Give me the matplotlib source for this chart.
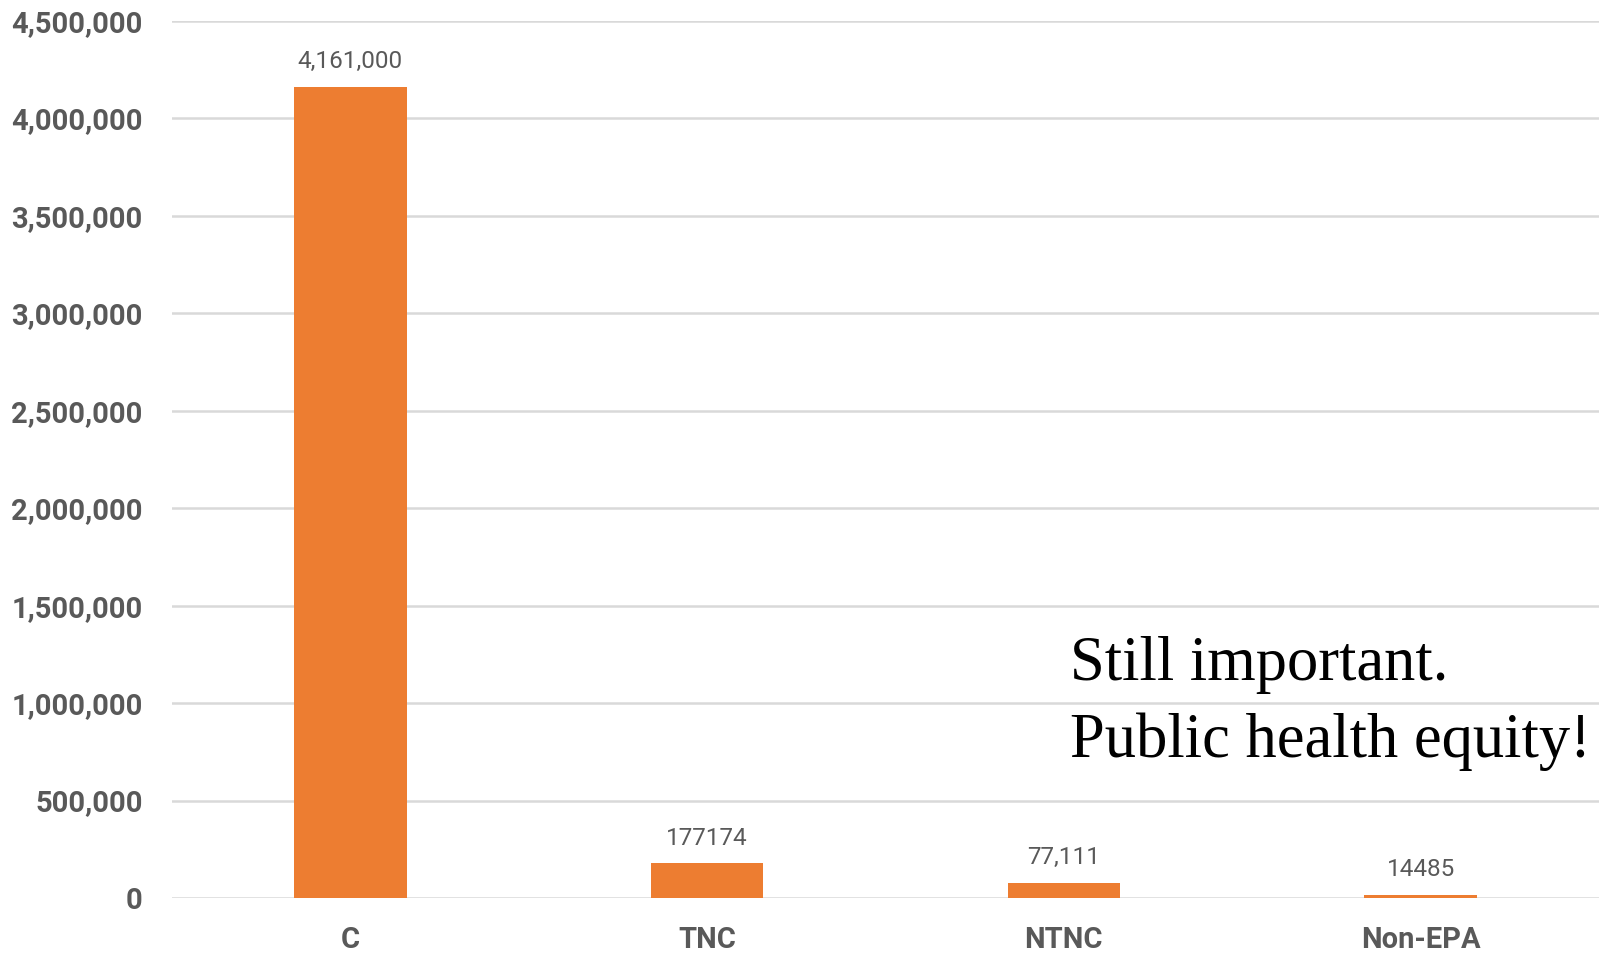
import matplotlib
matplotlib.use("Agg")
import matplotlib.pyplot as plt

# data
categories = ["C", "TNC", "NTNC", "Non-EPA"]
values = [4161000, 177174, 77111, 14485]
value_labels = ["4,161,000", "177174", "77,111", "14485"]
y_ticks = [0, 500000, 1000000, 1500000, 2000000, 2500000, 3000000, 3500000, 4000000, 4500000]
note_lines = ["Still important.", "Public health equity!"]

BAR_COLOR = "#ED7D31"
GRID_COLOR = "#D9D9D9"
TEXT_COLOR = "#595959"

fig = plt.figure(figsize=(15.99, 9.55), dpi=100)
ax = fig.add_axes([172 / 1599, 57 / 955, 1427 / 1599, 877 / 955])

x = range(len(categories))
ax.bar(x, values, width=0.315, color=BAR_COLOR, zorder=3)

ax.set_xlim(-0.5, len(categories) - 0.5)
ax.set_ylim(0, 4500000)
ax.set_yticks(y_ticks)
ax.set_yticklabels([f"{t:,}" for t in y_ticks])
ax.set_xticks(list(x))
ax.set_xticklabels(categories)

for lbl in ax.get_yticklabels() + ax.get_xticklabels():
    lbl.set_fontfamily("Roboto")
    lbl.set_fontweight("bold")
    lbl.set_fontsize(21)
    lbl.set_color(TEXT_COLOR)

ax.tick_params(axis="y", length=0, pad=21)
ax.tick_params(axis="x", length=0, pad=20)

ax.grid(axis="y", color=GRID_COLOR, linewidth=1.8, zorder=0)
ax.set_axisbelow(True)
for side in ["top", "right", "left", "bottom"]:
    ax.spines[side].set_visible(False)

for xi, v, lab in zip(x, values, value_labels):
    ax.annotate(lab, (xi, v), xytext=(0, 13.5), textcoords="offset points",
                ha="center", va="baseline", fontsize=17.5, color=TEXT_COLOR,
                fontfamily="Roboto")

fig.text(1070 / 1599, 1 - 680 / 955, note_lines[0], fontsize=45,
         fontfamily="Liberation Serif", color="black", va="baseline", ha="left")
fig.text(1070 / 1599, 1 - 757 / 955, note_lines[1], fontsize=45,
         fontfamily="Liberation Serif", color="black", va="baseline", ha="left")

fig.savefig("out.png", dpi=100)
